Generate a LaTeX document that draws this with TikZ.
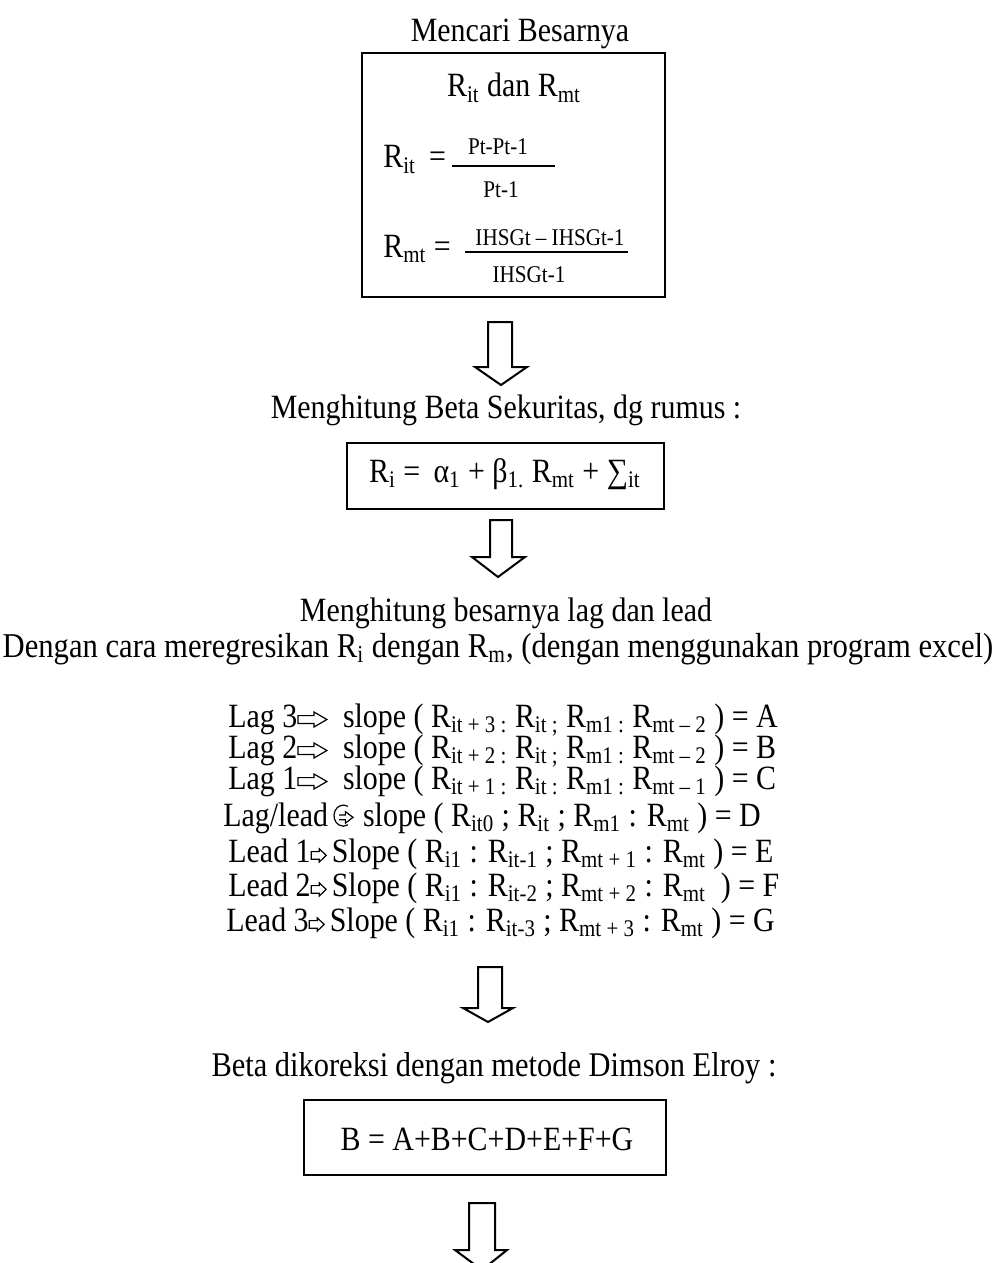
\documentclass[tikz,border=0pt]{standalone}
\usepackage{fontspec}
\setmainfont[FakeStretch=0.88]{Liberation Serif}
\newcommand\lagarrow{\tikz[baseline=0pt,x=1pt,y=1pt,line width=0.6pt,line join=miter]\draw (0,1.8)--(8,1.8)--(8,0)--(14.5,3.75)--(8,7.5)--(8,5.7)--(0,5.7)--cycle;}
\newcommand\leadarrow{\tikz[baseline=0pt,x=1pt,y=1pt,line width=0.6pt,line join=miter]\draw (0,1.4)--(4,1.4)--(4,0)--(7.5,3.3)--(4,6.6)--(4,5.2)--(0,5.2)--cycle;}
\newcommand\lagleadarrow{\tikz[baseline=0pt,x=1.2pt,y=1.2pt,line width=0.6pt,line join=miter]{\draw (6.2,8.2) arc (62:300:3.9 and 4.4); \draw (2.6,4.6)--(5.2,4.6)--(5.2,6)--(8.4,3.6)--(5.2,1.2)--(5.2,2.6)--(2.6,2.6);}}
\newcommand\lagblockfont{\fontsize{17}{15.5}\selectfont\setlength{\lineskiplimit}{-50pt}\setlength{\lineskip}{0pt}}
\begin{document}
\begin{tikzpicture}[x=0.5pt,y=-0.5pt,
  every node/.style={inner sep=0pt, font=\fontsize{17}{20}\selectfont},
  txt/.style={anchor=base},
  lft/.style={anchor=base west},
  small/.style={font=\fontsize{12}{14}\selectfont},
  box/.style={draw, line width=1pt, anchor=north west, inner sep=0pt},
  bigarrow/.style={draw, line width=1pt, line join=miter}]
\useasboundingbox (0,0) rectangle (1000,1263);
\clip (0,0) rectangle (1000,1263);

% --- stage 1
\node[txt] (t1) at (520,42) {Mencari Besarnya};
\node[box, minimum width=151.5pt, minimum height=122pt] (box1) at (361,52) {};
\node[txt] (t1a) at (514,97) {R\textsubscript{it} dan R\textsubscript{mt}};
\node[lft] (rit) at (383,168) {R\textsubscript{it} \,=};
\node[txt,small] (n1) at (498,155) {Pt-Pt-1};
\draw[line width=0.8pt] (452,166) -- (555,166);
\node[txt,small] (d1) at (501,197) {Pt-1};
\node[lft] (rmt) at (383,257) {R\textsubscript{mt} =};
\node[txt,small] (n2) at (550,245) {IHSGt – IHSGt-1};
\draw[line width=0.8pt] (465,252) -- (628,252);
\node[txt,small] (d2) at (529,282) {IHSGt-1};

\draw[bigarrow] (488,322) -- (488,367) -- (475,367) -- (501,385) -- (527,367) -- (512,367) -- (512,322) -- cycle;

% --- stage 2
\node[txt] (t2) at (506,418) {Menghitung Beta Sekuritas, dg rumus :};
\node[box, minimum width=158.5pt, minimum height=33pt] (box2) at (346,442) {};
\node[txt] (f2) at (505,482) {R\textsubscript{i} = \,α\textsubscript{1} + β\textsubscript{1.} R\textsubscript{mt} + ∑\textsubscript{it}};

\draw[bigarrow] (490,520) -- (490,557) -- (472,557) -- (498,577) -- (525,557) -- (512,557) -- (512,520) -- cycle;

% --- stage 3
\node[txt] (t3) at (506,621) {Menghitung besarnya lag dan lead};
\node[txt, font=\fontsize{17.4}{20}\selectfont] (t4) at (498,657) {Dengan cara meregresikan R\textsubscript{i} dengan R\textsubscript{m}, (dengan menggunakan program excel)};

\node[anchor=north west, align=left, font=\lagblockfont] (lags) at (228,703) {%
Lag 3\lagarrow\hspace{4pt} slope ( R\textsubscript{it + 3 :} R\textsubscript{it ;} R\textsubscript{m1 :} R\textsubscript{mt – 2} ) = A\\
Lag 2\lagarrow\hspace{4pt} slope ( R\textsubscript{it + 2 :} R\textsubscript{it ;} R\textsubscript{m1 :} R\textsubscript{mt – 2} ) = B\\
Lag 1\lagarrow\hspace{4pt} slope ( R\textsubscript{it + 1 :} R\textsubscript{it :} R\textsubscript{m1 :} R\textsubscript{mt – 1} ) = C\\[3pt]
\hspace*{-2.5pt}Lag/lead\hspace{2pt}\lagleadarrow\hspace{1pt} slope ( R\textsubscript{it0} ; R\textsubscript{it} ; R\textsubscript{m1} : R\textsubscript{mt} ) = D\\[2.5pt]
Lead 1\leadarrow\hspace{2.5pt}Slope ( R\textsubscript{i1} : R\textsubscript{it-1} ; R\textsubscript{mt + 1} : R\textsubscript{mt} ) = E\\[1.5pt]
Lead 2\leadarrow\hspace{2.5pt}Slope ( R\textsubscript{i1} : R\textsubscript{it-2} ; R\textsubscript{mt + 2} : R\textsubscript{mt} \ ) = F\\[2pt]
\hspace*{-1pt}Lead 3\leadarrow\hspace{2.5pt}Slope ( R\textsubscript{i1} : R\textsubscript{it-3} ; R\textsubscript{mt + 3} : R\textsubscript{mt} ) = G};

\draw[bigarrow] (478,967) -- (478,1008) -- (463,1008) -- (488,1022) -- (513,1008) -- (502,1008) -- (502,967) -- cycle;

% --- stage 4
\node[txt, font=\fontsize{17.3}{20}\selectfont] (t5) at (494,1076) {Beta dikoreksi dengan metode Dimson Elroy :};
\node[box, minimum width=181pt, minimum height=37.5pt] (box3) at (303,1099) {};
\node[txt] (f3) at (487,1150) {B = A+B+C+D+E+F+G};

\draw[bigarrow] (469,1203) -- (469,1250) -- (455,1250) -- (482,1270) -- (507,1250) -- (495,1250) -- (495,1203) -- cycle;
\end{tikzpicture}
\end{document}
